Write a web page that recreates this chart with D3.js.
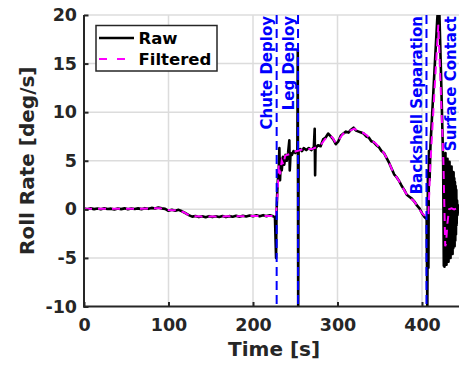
<!DOCTYPE html>
<html><head><meta charset="utf-8">
<script src="https://cdn.jsdelivr.net/npm/d3@7"></script>
<style>html,body{margin:0;padding:0;background:#fff;}svg{display:block;font-family:"DejaVu Sans",sans-serif;font-weight:bold;}</style>
</head><body><svg id="c" width="459" height="366"></svg>
<script>
// ---- data ----
const xTicks = [0, 100, 200, 300, 400];
const yTicks = [-10, -5, 0, 5, 10, 15, 20];
const seriesNames = ["Raw", "Filtered"];
const events = ["Chute Deploy", "Leg Deploy", "Backshell Separation", "Surface Contact"];
const eventTimes = [228, 253.3, 405.3, 446];

const rawTime = [0,4,8,12,16,20,24,28,32,36,40,44,48,52,56,60,64,68,72,76,80,84,88,92,96,100,104,108,112,116,120,124,128,132,136,140,144,148,152,156,160,164,168,172,176,180,184,188,192,196,200,204,208,212,216,220,224,226,227.3,227.8,
229,230.5,231.2,232,233,234,235.5,237,238.5,240,241.5,243,243.5,244.5,246,248,250,252.5,253,253.5,254,256,258,260,263,266,269,272,273,273.5,274,277,280,283,286,289,292,295,298,301,304,307,310,313,316,319,322,325,328,331,334,337,340,343,346,349,352,355,358,361,364,367,370,373,376,379,382,385,388,391,394,397,400,403,405.5,406.3,407,407.6,408.2,409,410,414,418,420,422.5,425,
425.8,426.2,426.6,427,427.4,427.8,428.2,428.6,429,429.4,429.8,430.2,430.6,431,431.4,431.8,432.2,432.6,433,433.4,433.8,434.2,434.6,435,435.4,435.8,436.2,436.6,437,437.4,437.8,438.2,438.6,439,439.4,439.8,440.2,440.6,441,441.5,442,443,444,446];
const rawRate = [0.08,0.0,0.1,0.02,0.08,0.0,0.1,0.03,0.07,-0.02,0.08,0.02,0.1,0.0,0.08,0.03,0.1,0.02,0.12,0.05,0.15,0.08,0.18,0.1,0.05,-0.15,-0.05,-0.15,-0.05,-0.2,-0.4,-0.6,-0.75,-0.68,-0.8,-0.72,-0.82,-0.7,-0.8,-0.72,-0.78,-0.68,-0.8,-0.7,-0.76,-0.66,-0.76,-0.66,-0.74,-0.64,-0.72,-0.62,-0.72,-0.6,-0.7,-0.62,-0.72,-0.8,-5.0,-0.5,
2.5,4.2,6.3,3.0,5.2,4.0,5.4,4.6,5.6,5.0,5.8,7.1,4.0,5.8,5.6,6.0,5.8,6.1,16.4,-10.5,6.0,6.2,6.0,6.3,6.1,6.3,6.1,6.4,8.3,3.5,6.3,6.6,6.5,7.2,7.4,7.8,7.5,7.2,6.7,7.0,7.6,7.8,8.0,7.9,8.2,8.4,8.1,8.0,7.9,7.8,7.5,7.4,7.0,6.9,6.6,6.4,6.0,5.8,5.3,4.8,4.2,3.6,3.3,2.9,2.4,2.0,1.5,1.3,1.1,0.8,0.4,0.1,-0.4,-0.8,-1.0,-10.5,4.0,-6.0,6.0,3.0,6.5,13,19.5,22,14,5,
-5.8,4.5,-5.9,5.2,-5.6,5.8,-5.4,5.0,-5.7,4.6,-5.3,5.2,-5.0,4.8,-5.4,4.4,-4.8,4.9,-4.6,4.2,-5.0,3.8,-4.4,4.4,-4.2,3.9,-4.6,3.5,-4.0,3.8,-3.6,3.2,-3.8,2.8,-3.2,2.4,-2.6,2.0,-1.6,0.9,-0.6,0.4,-0.1,0.2,0.0];

const filtTime = [0,20,40,60,80,90,98,105,112,118,124,130,150,170,190,210,224,227,229,230.5,232,234,236,238,240,244,248,252,256,260,265,270,275,280,285,290,294,298,302,306,310,315,320,325,330,335,340,345,350,355,360,365,370,375,380,385,390,395,400,405,407.5,409.8,414,419.3,425.3,427.5,428.5,430,432,435,438,441,444,446];
const filtRate = [0.05,0.05,0.05,0.05,0.1,0.12,-0.05,-0.1,-0.1,-0.3,-0.6,-0.72,-0.75,-0.72,-0.7,-0.68,-0.68,-0.85,1.5,4.6,3.6,5.0,4.6,5.5,5.6,5.7,5.9,6.0,6.1,6.2,6.2,6.2,6.4,6.6,7.2,7.6,7.4,6.8,7.2,7.7,8.0,8.1,8.3,8.0,7.9,7.6,7.1,6.8,6.3,5.8,5.0,4.0,3.3,2.6,1.8,1.2,0.9,0.3,-0.4,-0.8,-0.65,4.5,11,19,5,-3.8,-3.5,-1.5,0.0,0.1,0.0,0.1,0.0,0.0];

// ---- layout ----
const svg = d3.select("#c");
const axisColor = "#262626";
const x = d3.scaleLinear().domain([0, 450]).range([84, 84 + 450 * 0.845]);
const y = d3.scaleLinear().domain([-10, 20]).range([306.5, 15]);
const [x0, x1] = x.range();
const [yb, yt] = y.range();

svg.append("defs").append("clipPath").attr("id", "clip")
  .append("rect").attr("x", x0).attr("y", yt).attr("width", x1 - x0).attr("height", yb - yt);

// grid
const grid = svg.append("g").attr("stroke", "#dcdcdc").attr("stroke-width", 1.5);
xTicks.filter(d => d > 0).forEach(d => grid.append("line").attr("x1", x(d)).attr("x2", x(d)).attr("y1", yt).attr("y2", yb));
yTicks.filter(d => d > -10).forEach(d => grid.append("line").attr("x1", x0).attr("x2", x1).attr("y1", y(d)).attr("y2", y(d)));

// data lines
const plot = svg.append("g").attr("clip-path", "url(#clip)");
const rawData = rawTime.map((t, i) => [t, rawRate[i]]);
const filtData = filtTime.map((t, i) => [t, filtRate[i]]);
const line = d3.line().x(d => x(d[0])).y(d => y(d[1]));
plot.append("path").datum(rawData).attr("d", line).attr("fill", "none").attr("stroke", "#000").attr("stroke-width", 2.6).attr("stroke-linejoin", "round");
plot.append("path").datum(filtData).attr("d", line).attr("fill", "none").attr("stroke", "#ff00ff").attr("stroke-width", 2).attr("stroke-dasharray", "8,6");

// event lines
events.forEach((name, i) => {
  const ex = x(eventTimes[i]);
  plot.append("line").attr("x1", ex).attr("x2", ex).attr("y1", yt).attr("y2", yb)
    .attr("stroke", "#0000ff").attr("stroke-width", 2).attr("stroke-dasharray", "9,5");
  svg.append("text").attr("transform", `translate(${ex - 4.5},${yt + 1}) rotate(-90)`)
    .attr("text-anchor", "end").attr("fill", "#0000ff").attr("font-size", 15).text(name);
});

// axes
const fmt = d => String(d);
const xAxis = d3.axisBottom(x).tickValues(xTicks).tickSize(-4.5).tickPadding(10).tickFormat(fmt);
const yAxis = d3.axisLeft(y).tickValues(yTicks).tickSize(-4.5).tickPadding(7).tickFormat(fmt);
const gx = svg.append("g").attr("transform", `translate(0,${yb})`).call(xAxis);
const gy = svg.append("g").attr("transform", `translate(${x0},0)`).call(yAxis);
[gx, gy].forEach(g => {
  g.select(".domain").remove();
  g.selectAll(".tick line").attr("stroke", axisColor).attr("stroke-width", 2);
  g.selectAll(".tick text").attr("fill", axisColor).attr("font-size", 17.5).attr("font-family", "DejaVu Sans").attr("font-weight", "bold");
});
gx.selectAll(".tick text").attr("dy", null).attr("y", 24);
svg.append("line").attr("x1", x0).attr("x2", x0).attr("y1", yt).attr("y2", yb + 1).attr("stroke", axisColor).attr("stroke-width", 2);
svg.append("line").attr("x1", x0 - 1).attr("x2", x1).attr("y1", yb).attr("y2", yb).attr("stroke", axisColor).attr("stroke-width", 2);

// axis titles
svg.append("text").attr("x", (x0 + x1) / 2).attr("y", 355.5).attr("text-anchor", "middle")
  .attr("fill", axisColor).attr("font-size", 20).text("Time [s]");
svg.append("text").attr("transform", `translate(33.5,${(yt + yb) / 2}) rotate(-90)`).attr("text-anchor", "middle")
  .attr("fill", axisColor).attr("font-size", 20).text("Roll Rate [deg/s]");

// legend
const lg = svg.append("g");
lg.append("rect").attr("x", 96).attr("y", 25.5).attr("width", 121).attr("height", 45.5)
  .attr("fill", "#fff").attr("stroke", axisColor).attr("stroke-width", 1.5);
const legY = [38, 59];
const legStyles = [{c: "#000", w: 2.6, dash: null}, {c: "#ff00ff", w: 2, dash: "8,10"}];
seriesNames.forEach((n, i) => {
  const l = lg.append("line").attr("x1", 99).attr("x2", 134).attr("y1", legY[i]).attr("y2", legY[i])
    .attr("stroke", legStyles[i].c).attr("stroke-width", legStyles[i].w);
  if (legStyles[i].dash) l.attr("stroke-dasharray", legStyles[i].dash);
  lg.append("text").attr("x", 138.5).attr("y", legY[i] + 5.5).attr("fill", "#000").attr("font-size", 16.5).text(n);
});
</script></body></html>
